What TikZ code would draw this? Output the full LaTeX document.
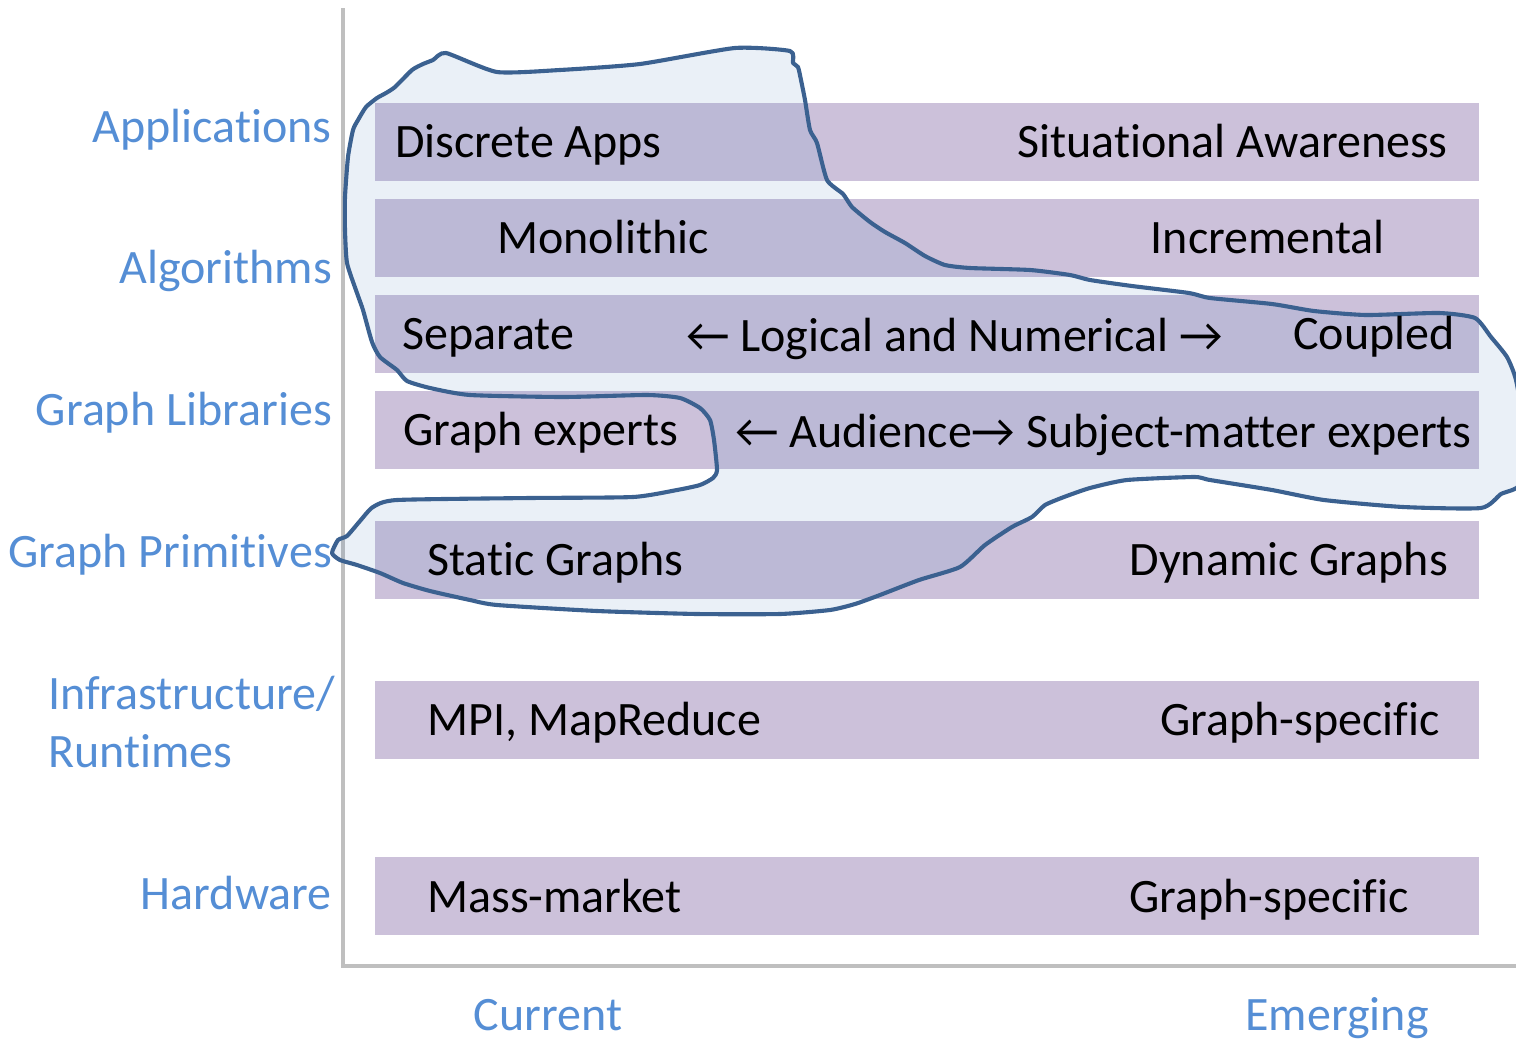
\documentclass[tikz,border=0pt]{standalone}
\usepackage{fontspec}
\setmainfont[Ligatures=NoCommon]{Carlito}
\definecolor{barc}{RGB}{204,193,218}
\definecolor{labc}{RGB}{85,142,213}
\definecolor{blobline}{RGB}{59,97,144}
\definecolor{blobfill}{RGB}{79,129,189}
\definecolor{axisc}{RGB}{191,191,191}
\begin{document}
\begin{tikzpicture}[x=1pt,y=-1pt,
  bar/.style={fill=barc,draw=none},
  lbl/.style={text=labc,font=\fontsize{48}{52}\selectfont,inner sep=0pt},
  txt/.style={text=black,font=\fontsize{48}{52}\selectfont,inner sep=0pt},
  axisline/.style={draw=axisc,line width=4.5pt},
  blob/.style={draw=blobline,line width=4.1pt,fill=blobfill,fill opacity=0.12,line join=round}]
\useasboundingbox (0,0) rectangle (1516,1039);
% bars
\fill[bar] (375,103) rectangle (1479,181);
\fill[bar] (375,199) rectangle (1479,277);
\fill[bar] (375,295) rectangle (1479,373);
\fill[bar] (375,391) rectangle (1479,469);
\fill[bar] (375,521) rectangle (1479,599);
\fill[bar] (375,681) rectangle (1479,759);
\fill[bar] (375,857) rectangle (1479,935);
% axes
\draw[axisline] (343,8) -- (343,966) -- (1516,966);
% blob
\path[blob] plot[smooth cycle,tension=0.35] coordinates {
 (735,48) (790,51) (793,63) (798,67) (801,80) (805,100) (810,130) (817,143)
 (827,180) (843,194) (852,207) (870,222) (885,232) (905,243) (925,256) (945,265)
 (970,268) (1030,270) (1070,275) (1090,280) (1132,286) (1189,293) (1210,298)
 (1272,304) (1314,311) (1366,315) (1439,313) (1475,318) (1491,337) (1507,357)
 (1516,380) (1524,430) (1520,484) (1501,494) (1481,508) (1403,507) (1324,500)
 (1272,490) (1210,480) (1194,477) (1127,480) (1090,488) (1064,497) (1045,505)
 (1032,517) (1012,527) (985,545) (960,567) (919,580) (880,595) (855,604)
 (830,610) (780,614) (697,614) (597,611) (497,605) (470,600) (430,591)
 (403,583) (380,573) (357,565) (340,560) (332,553) (338,540) (347,536)
 (360,521) (373,507) (397,500) (530,498) (633,497) (677,490) (700,485)
 (713,478) (717,470) (714,440) (710,420) (700,408) (680,398) (647,395)
 (563,397) (470,395) (430,388) (407,381) (397,370) (380,357) (372,342)
 (363,310) (357,293) (347,263) (345,230) (345,197) (348,157) (353,130)
 (358,120) (366,107) (377,98) (386,93) (395,87) (412,70) (423,64) (433,60)
 (446,53) (497,72) (560,70) (640,64)};
% left labels
\node[lbl,anchor=base east] (lapp) at (332,142) {Applications};
\node[lbl,anchor=base east] (lalg) at (332,283) {Algorithms};
\node[lbl,anchor=base east] (llib) at (332,425) {Graph Libraries};
\node[lbl,anchor=base east] (lprim) at (332,567) {Graph Primitives};
\node[lbl,anchor=base west] (linf) at (48,709) {Infrastructure/};
\node[lbl,anchor=base west] (lrun) at (48,767) {Runtimes};
\node[lbl,anchor=base east] (lhw) at (332,909) {Hardware};
\node[lbl,anchor=base] (lcur) at (548,1030) {Current};
\node[lbl,anchor=base] (lemg) at (1337,1030) {Emerging};
% bar texts
\node[txt,anchor=base west] (t1a) at (395,157) {Discrete Apps};
\node[txt,anchor=base east] (t1b) at (1448,157) {Situational Awareness};
\node[txt,anchor=base west] (t2a) at (497,253) {Monolithic};
\node[txt,anchor=base east] (t2b) at (1385,253) {Incremental};
\node[txt,anchor=base west] (t3a) at (402,349) {Separate};
\node[txt,anchor=base west] (t3m) at (686,351) {← Logical and Numerical →};
\node[txt,anchor=base east] (t3b) at (1455,349) {Coupled};
\node[txt,anchor=base west] (t4a) at (403,445) {Graph experts};
\node[txt,anchor=base west] (t4m) at (735,447) {← Audience→ Subject-matter experts};
\node[txt,anchor=base west] (t5a) at (427,575) {Static Graphs};
\node[txt,anchor=base east] (t5b) at (1448,575) {Dynamic Graphs};
\node[txt,anchor=base west] (t6a) at (427,735) {MPI, MapReduce};
\node[txt,anchor=base east] (t6b) at (1440,735) {Graph-specific};
\node[txt,anchor=base west] (t7a) at (427,912) {Mass-market};
\node[txt,anchor=base east] (t7b) at (1409,912) {Graph-specific};
\end{tikzpicture}
\end{document}
